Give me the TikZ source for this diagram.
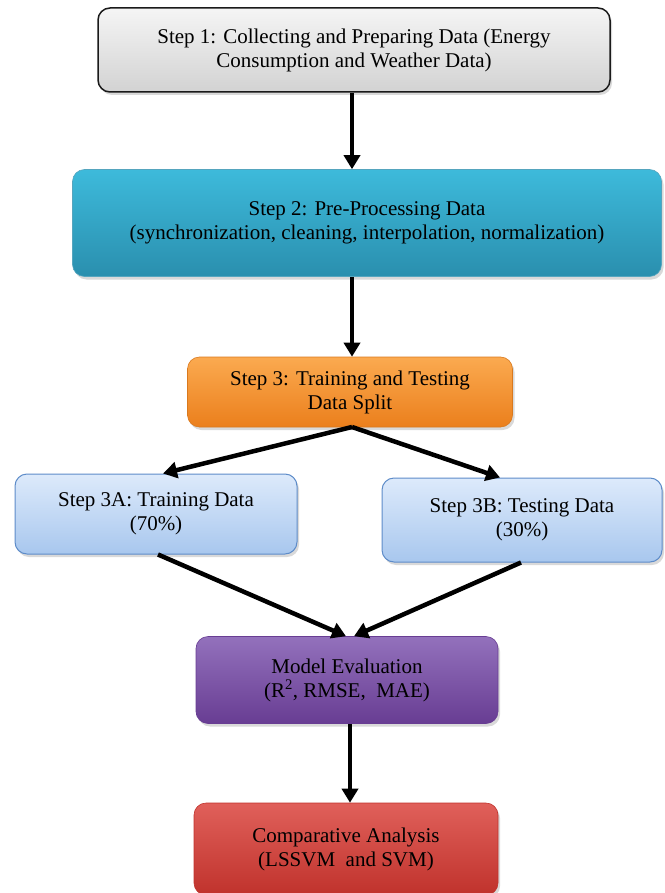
\documentclass[tikz,border=0pt]{standalone}
\usepackage{fontspec}
\newfontfamily\tnr{Liberation Serif}
\usetikzlibrary{arrows.meta,shadows}
\definecolor{bordgray}{HTML}{1A1A1A}
\definecolor{tealtop}{HTML}{3DBADB}
\definecolor{tealbot}{HTML}{2A8FAE}
\definecolor{orgtop}{HTML}{FBAA50}
\definecolor{orgbot}{HTML}{EB7F1C}
\definecolor{orgbord}{HTML}{D9791E}
\definecolor{bluetop}{HTML}{DDEAFB}
\definecolor{bluebot}{HTML}{A8C7EE}
\definecolor{bluebord}{HTML}{5E8CC9}
\definecolor{purtop}{HTML}{9371BC}
\definecolor{purbot}{HTML}{683D93}
\definecolor{redtop}{HTML}{E0605A}
\definecolor{redbot}{HTML}{C0322C}
\tikzset{
  box/.style={rounded corners=12pt, align=center, font=\tnr\fontsize{21}{24}\selectfont,
    drop shadow={shadow xshift=2pt, shadow yshift=-3pt, opacity=0.3}},
  conn/.style={line width=4.5pt, -{Triangle[length=14pt,width=16pt]}}
}
\begin{document}
\begin{tikzpicture}[x=1pt,y=-1pt]
\useasboundingbox (0,0) rectangle (664,893);
\node[box, draw=bordgray, line width=1.5pt, top color=gray!8, bottom color=gray!35,
  minimum width=512pt, minimum height=84pt] (s1) at (354,50)
  {Step 1: Collecting and Preparing Data (Energy\\Consumption and Weather Data)};
\node[box, top color=tealtop, bottom color=tealbot, draw=tealbot!80!white, line width=0.6pt,
  minimum width=589pt, minimum height=107pt] (s2) at (367,223)
  {Step 2: Pre-Processing Data\\(synchronization, cleaning, interpolation, normalization)};
\node[box, top color=orgtop, bottom color=orgbot, draw=orgbord, line width=0.6pt,
  minimum width=325pt, minimum height=70pt] (s3) at (350,392)
  {Step 3: Training and Testing\\Data Split};
\node[box, top color=bluetop, bottom color=bluebot, draw=bluebord, line width=1pt,
  minimum width=282pt, minimum height=80pt] (s3a) at (156,514)
  {Step 3A: Training Data\\(70\%)};
\node[box, top color=bluetop, bottom color=bluebot, draw=bluebord, line width=1pt,
  minimum width=280pt, minimum height=84pt] (s3b) at (522,520)
  {Step 3B: Testing Data\\(30\%)};
\node[box, top color=purtop, bottom color=purbot, draw=purbot, line width=0.6pt,
  minimum width=302pt, minimum height=87pt] (me) at (347,680)
  {Model Evaluation\\(R\textsuperscript{2}, RMSE,\ \ MAE)};
\node[box, top color=redtop, bottom color=redbot, draw=redbot, line width=0.6pt,
  minimum width=304pt, minimum height=92pt] (ca) at (346,849)
  {Comparative Analysis\\(LSSVM\ \ and SVM)};
\draw[conn] (s1.south -| 352,0) -- (s2.north -| 352,0);
\draw[conn] (s2.south -| 352,0) -- (s3.north -| 352,0);
\coordinate (sp) at (352,427);
\draw[conn] (sp) -- (s3a.north -| 163,0);
\draw[conn] (sp) -- (s3b.north -| 500,0);
\draw[conn] (s3a.south -| 158,0) -- (me.north -| 346,0);
\draw[conn] (s3b.south -| 521,0) -- (me.north -| 354,0);
\draw[conn] (me.south -| 350,0) -- (ca.north -| 350,0);
\end{tikzpicture}
\end{document}
